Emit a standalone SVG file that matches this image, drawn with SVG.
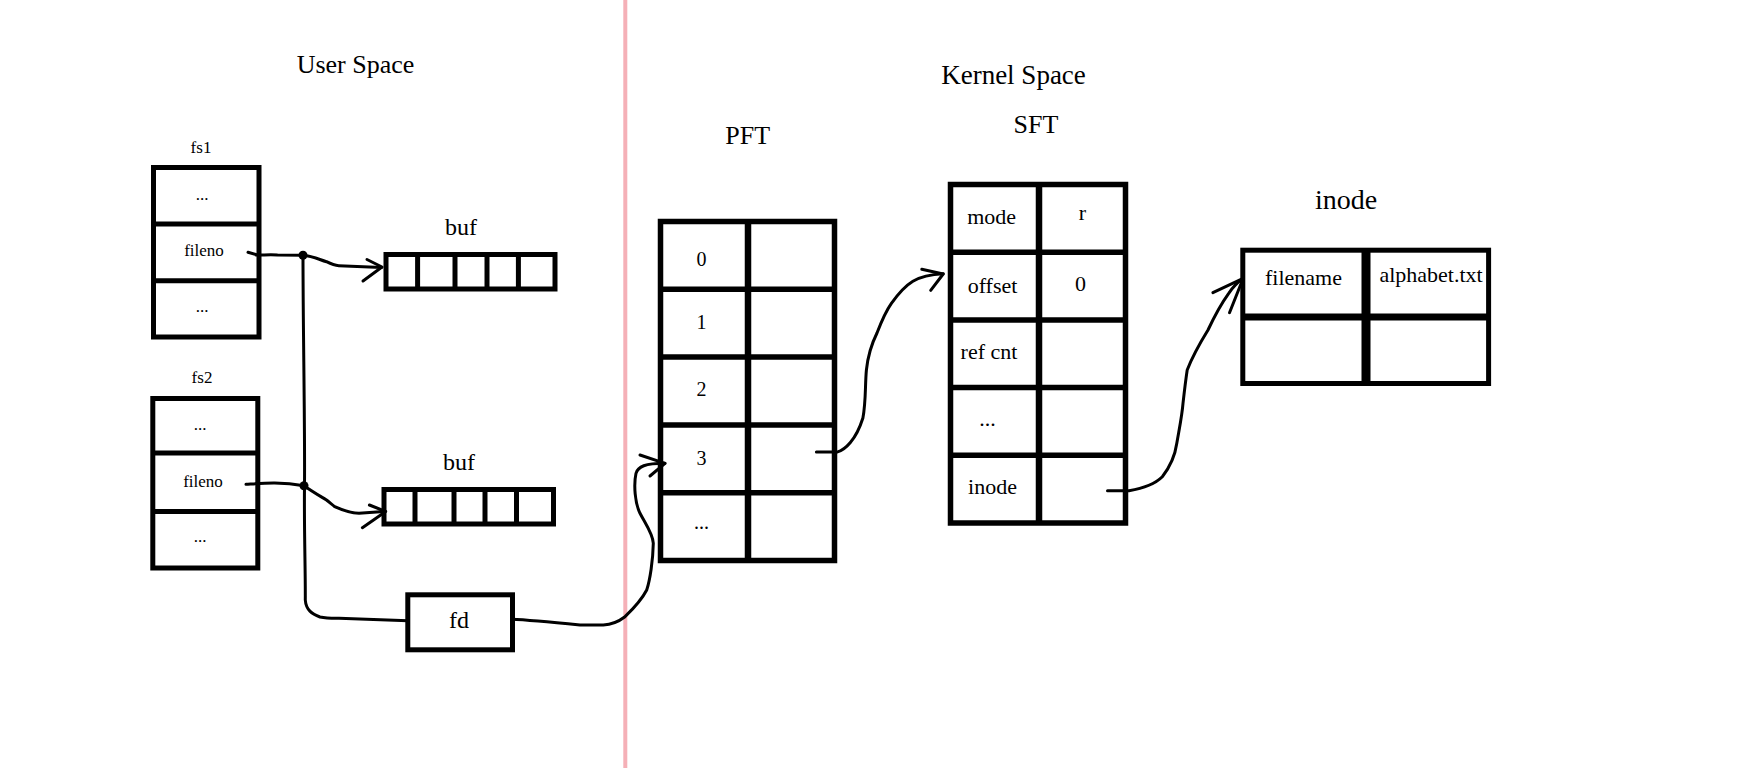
<svg xmlns="http://www.w3.org/2000/svg" width="1751" height="782" viewBox="0 0 1751 782">
<style>
  .t { font-family: "Liberation Serif", "Times New Roman", serif; fill: #000; text-anchor: middle; }
  .box { fill: none; stroke: #000; stroke-width: 5; }
  .div { stroke: #000; stroke-width: 5; }
  .divw { stroke: #000; stroke-width: 6.5; }
  .con { fill: none; stroke: #000; stroke-width: 3; stroke-linecap: round; stroke-linejoin: round; }
  .s17 { font-size: 17px; }
  .s20 { font-size: 20px; }
  .s22 { font-size: 22px; }
  .s24 { font-size: 24px; }
  .s26 { font-size: 26px; }
</style>
<rect width="1751" height="782" fill="#fff"/>

<g id="space-divider">
  <line x1="625.3" y1="0" x2="625.3" y2="768" stroke="#f5b0b7" stroke-width="4"/>
</g>

<g id="titles">
  <text class="t s26" x="355.5" y="73">User Space</text>
  <text class="t" style="font-size:27px" x="1013.5" y="84">Kernel Space</text>
</g>

<g id="fs1">
  <text class="t s17" x="201" y="153">fs1</text>
  <rect class="box" x="153.5" y="167.5" width="105.5" height="169.5"/>
  <line class="div" x1="153.5" y1="224" x2="259" y2="224"/>
  <line class="div" x1="153.5" y1="280.7" x2="259" y2="280.7"/>
  <text class="t s17" x="202" y="200">...</text>
  <text class="t s17" x="204" y="256">fileno</text>
  <text class="t s17" x="202" y="312">...</text>
</g>

<g id="fs2">
  <text class="t s17" x="202" y="383">fs2</text>
  <rect class="box" x="152.8" y="398.5" width="105" height="169.5"/>
  <line class="div" x1="152.8" y1="453" x2="257.8" y2="453"/>
  <line class="div" x1="152.8" y1="511.5" x2="257.8" y2="511.5"/>
  <text class="t s17" x="200" y="430">...</text>
  <text class="t s17" x="203" y="487">fileno</text>
  <text class="t s17" x="200" y="542">...</text>
</g>

<g id="buf1">
  <text class="t s24" x="461" y="235">buf</text>
  <rect class="box" x="386" y="254.5" width="169" height="34.5"/>
  <line class="div" x1="417.6" y1="254.5" x2="417.6" y2="289"/>
  <line class="div" x1="455" y1="254.5" x2="455" y2="289"/>
  <line class="div" x1="487" y1="254.5" x2="487" y2="289"/>
  <line class="div" x1="518.4" y1="254.5" x2="518.4" y2="289"/>
</g>

<g id="buf2">
  <text class="t s24" x="459" y="470">buf</text>
  <rect class="box" x="384" y="489.5" width="169.5" height="34.5"/>
  <line class="div" x1="415" y1="489.5" x2="415" y2="524"/>
  <line class="div" x1="454" y1="489.5" x2="454" y2="524"/>
  <line class="div" x1="485" y1="489.5" x2="485" y2="524"/>
  <line class="div" x1="516.5" y1="489.5" x2="516.5" y2="524"/>
</g>

<g id="fd">
  <rect class="box" x="407.8" y="594.8" width="104.7" height="55"/>
  <text class="t s24" x="459" y="628">fd</text>
</g>

<g id="pft">
  <text class="t s26" x="747.7" y="143.5">PFT</text>
  <rect class="box" x="660.5" y="221.5" width="174" height="339" style="stroke-width:5.5"/>
  <line class="divw" x1="748" y1="221.5" x2="748" y2="560.5"/>
  <line class="div" x1="660.5" y1="289.3" x2="834.5" y2="289.3" style="stroke-width:5.5"/>
  <line class="div" x1="660.5" y1="357.1" x2="834.5" y2="357.1" style="stroke-width:5.5"/>
  <line class="div" x1="660.5" y1="424.9" x2="834.5" y2="424.9" style="stroke-width:5.5"/>
  <line class="div" x1="660.5" y1="492.7" x2="834.5" y2="492.7" style="stroke-width:5.5"/>
  <text class="t s20" x="701.4" y="265.6">0</text>
  <text class="t s20" x="701.4" y="329.3">1</text>
  <text class="t s20" x="701.4" y="395.9">2</text>
  <text class="t s20" x="701.4" y="465.4">3</text>
  <text class="t s20" x="701.4" y="529">...</text>
</g>

<g id="sft">
  <text class="t s26" x="1036" y="133">SFT</text>
  <rect class="box" x="950.5" y="184.5" width="175" height="338.5" style="stroke-width:5.5"/>
  <line class="divw" x1="1039" y1="184.5" x2="1039" y2="523"/>
  <line class="div" x1="950.5" y1="252.2" x2="1125.5" y2="252.2" style="stroke-width:5.5"/>
  <line class="div" x1="950.5" y1="319.9" x2="1125.5" y2="319.9" style="stroke-width:5.5"/>
  <line class="div" x1="950.5" y1="387.6" x2="1125.5" y2="387.6" style="stroke-width:5.5"/>
  <line class="div" x1="950.5" y1="455.3" x2="1125.5" y2="455.3" style="stroke-width:5.5"/>
  <text class="t s22" x="991.6" y="223.8">mode</text>
  <text class="t s22" x="1082.5" y="220">r</text>
  <text class="t s22" x="992.5" y="293">offset</text>
  <text class="t s22" x="1080.5" y="291">0</text>
  <text class="t s22" x="989" y="359">ref cnt</text>
  <text class="t s22" x="987.5" y="425.5">...</text>
  <text class="t s22" x="992.5" y="494">inode</text>
</g>

<g id="inode">
  <text class="t" style="font-size:28px" x="1346" y="209">inode</text>
  <rect class="box" x="1242.8" y="250.2" width="245.8" height="133.3"/>
  <line x1="1366" y1="250.2" x2="1366" y2="383.5" stroke="#000" stroke-width="9"/>
  <line x1="1242.8" y1="317" x2="1488.6" y2="317" stroke="#000" stroke-width="7"/>
  <text class="t s22" x="1303.5" y="285">filename</text>
  <text class="t s22" x="1431" y="282">alphabet.txt</text>
</g>

<g id="connectors">
  <!-- fs1 fileno to buf1 -->
  <path class="con" d="M248,252.3 L256,254.5 M256,255 C264,255 272,254.5 277.5,255 L303,255.3"/>
  <path class="con" d="M303,255.3 C313,256 320,260 326.5,261.7 C331,264 334,265.5 338.8,265.7 L381.6,267.4"/>
  <path class="con" d="M367,259.5 L382,267 L363,281"/>
  <circle cx="303" cy="255.3" r="4.5" fill="#000"/>
  <!-- shared vertical line down to fd -->
  <path class="con" d="M303,255.3 C303,330 305,420 304.5,485.7 C304,530 305.5,570 305.3,600 C306,610 312,614 320,617 C327,618.5 333,618.3 339,618.3 L408,620.7"/>
  <!-- fs2 fileno to buf2 -->
  <path class="con" d="M246,484.3 C262,483.3 280,481.5 304,485.7"/>
  <path class="con" d="M304,485.7 C313,492 320,496 326.5,500 C330,503 333,505 334.7,506.7 C342,510 350,513 359,513.3 L383.7,511.5"/>
  <path class="con" d="M369.4,505 L385.7,511.5 L362.4,527.7"/>
  <circle cx="304" cy="485.7" r="4.5" fill="#000"/>
  <!-- fd to PFT row 3 -->
  <path class="con" d="M511.7,619.3 C530,620 560,623 580,625 L603.3,625 C612,624.5 620,620.5 625,616.7 C633,609 641,601 646.7,590 C650,580 653,560 653.3,543.3 C653,534 645,523 640,513.3 C635,503 633.5,485 636,473.3 C638,466.5 645,463.3 665,463.3"/>
  <path class="con" d="M640,455 L665,463.3 L650,476"/>
  <!-- PFT row 3 to SFT offset -->
  <path class="con" d="M816.4,452.1 L837,452.1 C845,450 856,440 862.9,418 C866,402 865,385 866.4,370 C868,355 872,343 877,333 C882,320 886,311 891.4,303.4 C898,294 905,286 912.9,281.2 C922,276 931,274.5 943.2,273.8"/>
  <path class="con" d="M921.8,269.3 L943.2,274 L930.7,290.4"/>
  <!-- SFT inode to inode filename -->
  <path class="con" d="M1107.5,490.7 L1129,490.7 C1145,488 1156,483 1162.3,476.7 C1170,467 1175,456 1176.8,443.3 C1179,430 1182,416 1183,403.3 C1184.5,390 1186,378 1187.2,370 C1193,355 1200,343 1208,330 C1215,315 1221,304 1228.7,293.3 C1233,287 1238,282 1243.2,278.3"/>
  <path class="con" d="M1212.9,292.7 L1243.2,278.3 L1229.5,312.7"/>
</g>
</svg>
